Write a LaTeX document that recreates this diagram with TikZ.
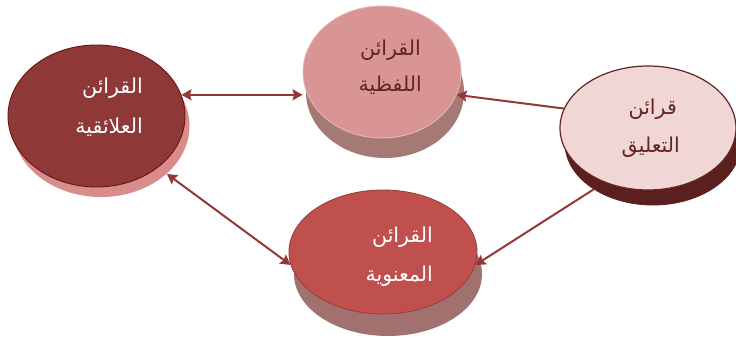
\documentclass[tikz,border=0pt]{standalone}
\usepackage{fontspec}
\newfontfamily\arabicfont[Script=Arabic]{DejaVu Sans}
\TeXXeTstate=1
\usetikzlibrary{shapes.geometric,arrows.meta}
\definecolor{lface}{HTML}{8E3838}
\definecolor{lline}{HTML}{6B1515}
\definecolor{lshad}{HTML}{D98C8C}
\definecolor{tface}{HTML}{D99594}
\definecolor{tline}{HTML}{E8B4B4}
\definecolor{tshad}{HTML}{A67A74}
\definecolor{rface}{HTML}{F0D6D5}
\definecolor{rline}{HTML}{632523}
\definecolor{rshad}{HTML}{5C1F1F}
\definecolor{bface}{HTML}{C0504D}
\definecolor{bline}{HTML}{9E3F3C}
\definecolor{bshad}{HTML}{A0716E}
\definecolor{arrowc}{HTML}{953735}
\definecolor{darktext}{HTML}{632523}
\begin{document}
\begin{tikzpicture}[x=1pt,y=-1pt,
  ell/.style={ellipse,inner sep=0pt,line width=0.9pt},
  >={Stealth[length=10pt,width=11pt,inset=1.5pt]},
  conn/.style={draw=arrowc,line width=2pt},
  lab/.style={font=\arabicfont\fontsize{20.5}{24}\selectfont,anchor=east,inner sep=0pt}]
\useasboundingbox (0,0) rectangle (736,342);
% left
\node[ell,fill=lshad,minimum width=177pt,minimum height=142pt] (Ls) at (101,126) {};
\node[ell,fill=lface,draw=lline,minimum width=177pt,minimum height=142pt] (L) at (96.5,116) {};
% top
\node[ell,fill=tshad,minimum width=158pt,minimum height=132pt] (Ts) at (385,92) {};
\node[ell,fill=tface,draw=tline,minimum width=158pt,minimum height=132pt] (T) at (382,72) {};
% right
\node[ell,fill=rshad,draw=rshad,minimum width=176pt,minimum height=124pt] (Rs) at (653,143) {};
\node[ell,fill=rface,draw=rline,line width=1.2pt,minimum width=176pt,minimum height=124pt] (R) at (648,128) {};
% bottom
\node[ell,fill=bshad,minimum width=188pt,minimum height=124pt] (Bs) at (388,274) {};
\node[ell,fill=bface,draw=bline,minimum width=188pt,minimum height=124pt] (B) at (383,252) {};
% texts
\node[lab,text=white] (l1) at (143,88) {\beginR القرائن\endR};
\node[lab,text=white] (l2) at (143,127) {\beginR العلائقية\endR};
\node[lab,text=darktext] (t1) at (421,50) {\beginR القرائن\endR};
\node[lab,text=darktext] (t2) at (422,85) {\beginR اللفظية\endR};
\node[lab,text=darktext] (r1) at (677,109) {\beginR قرائن\endR};
\node[lab,text=darktext] (r2) at (680,147) {\beginR التعليق\endR};
\node[lab,text=white] (b1) at (433,237) {\beginR القرائن\endR};
\node[lab,text=white] (b2) at (433,276) {\beginR المعنوية\endR};
% connectors
\draw[conn,<->] (L.14) -- (L.14 -| T.west);
\draw[conn,->] (R.167) -- (T.-17);
\draw[conn,->] (Rs.218) -- (B.-8);
\draw[conn,<->] (Ls.-36) -- (B.188);
\end{tikzpicture}
\end{document}
